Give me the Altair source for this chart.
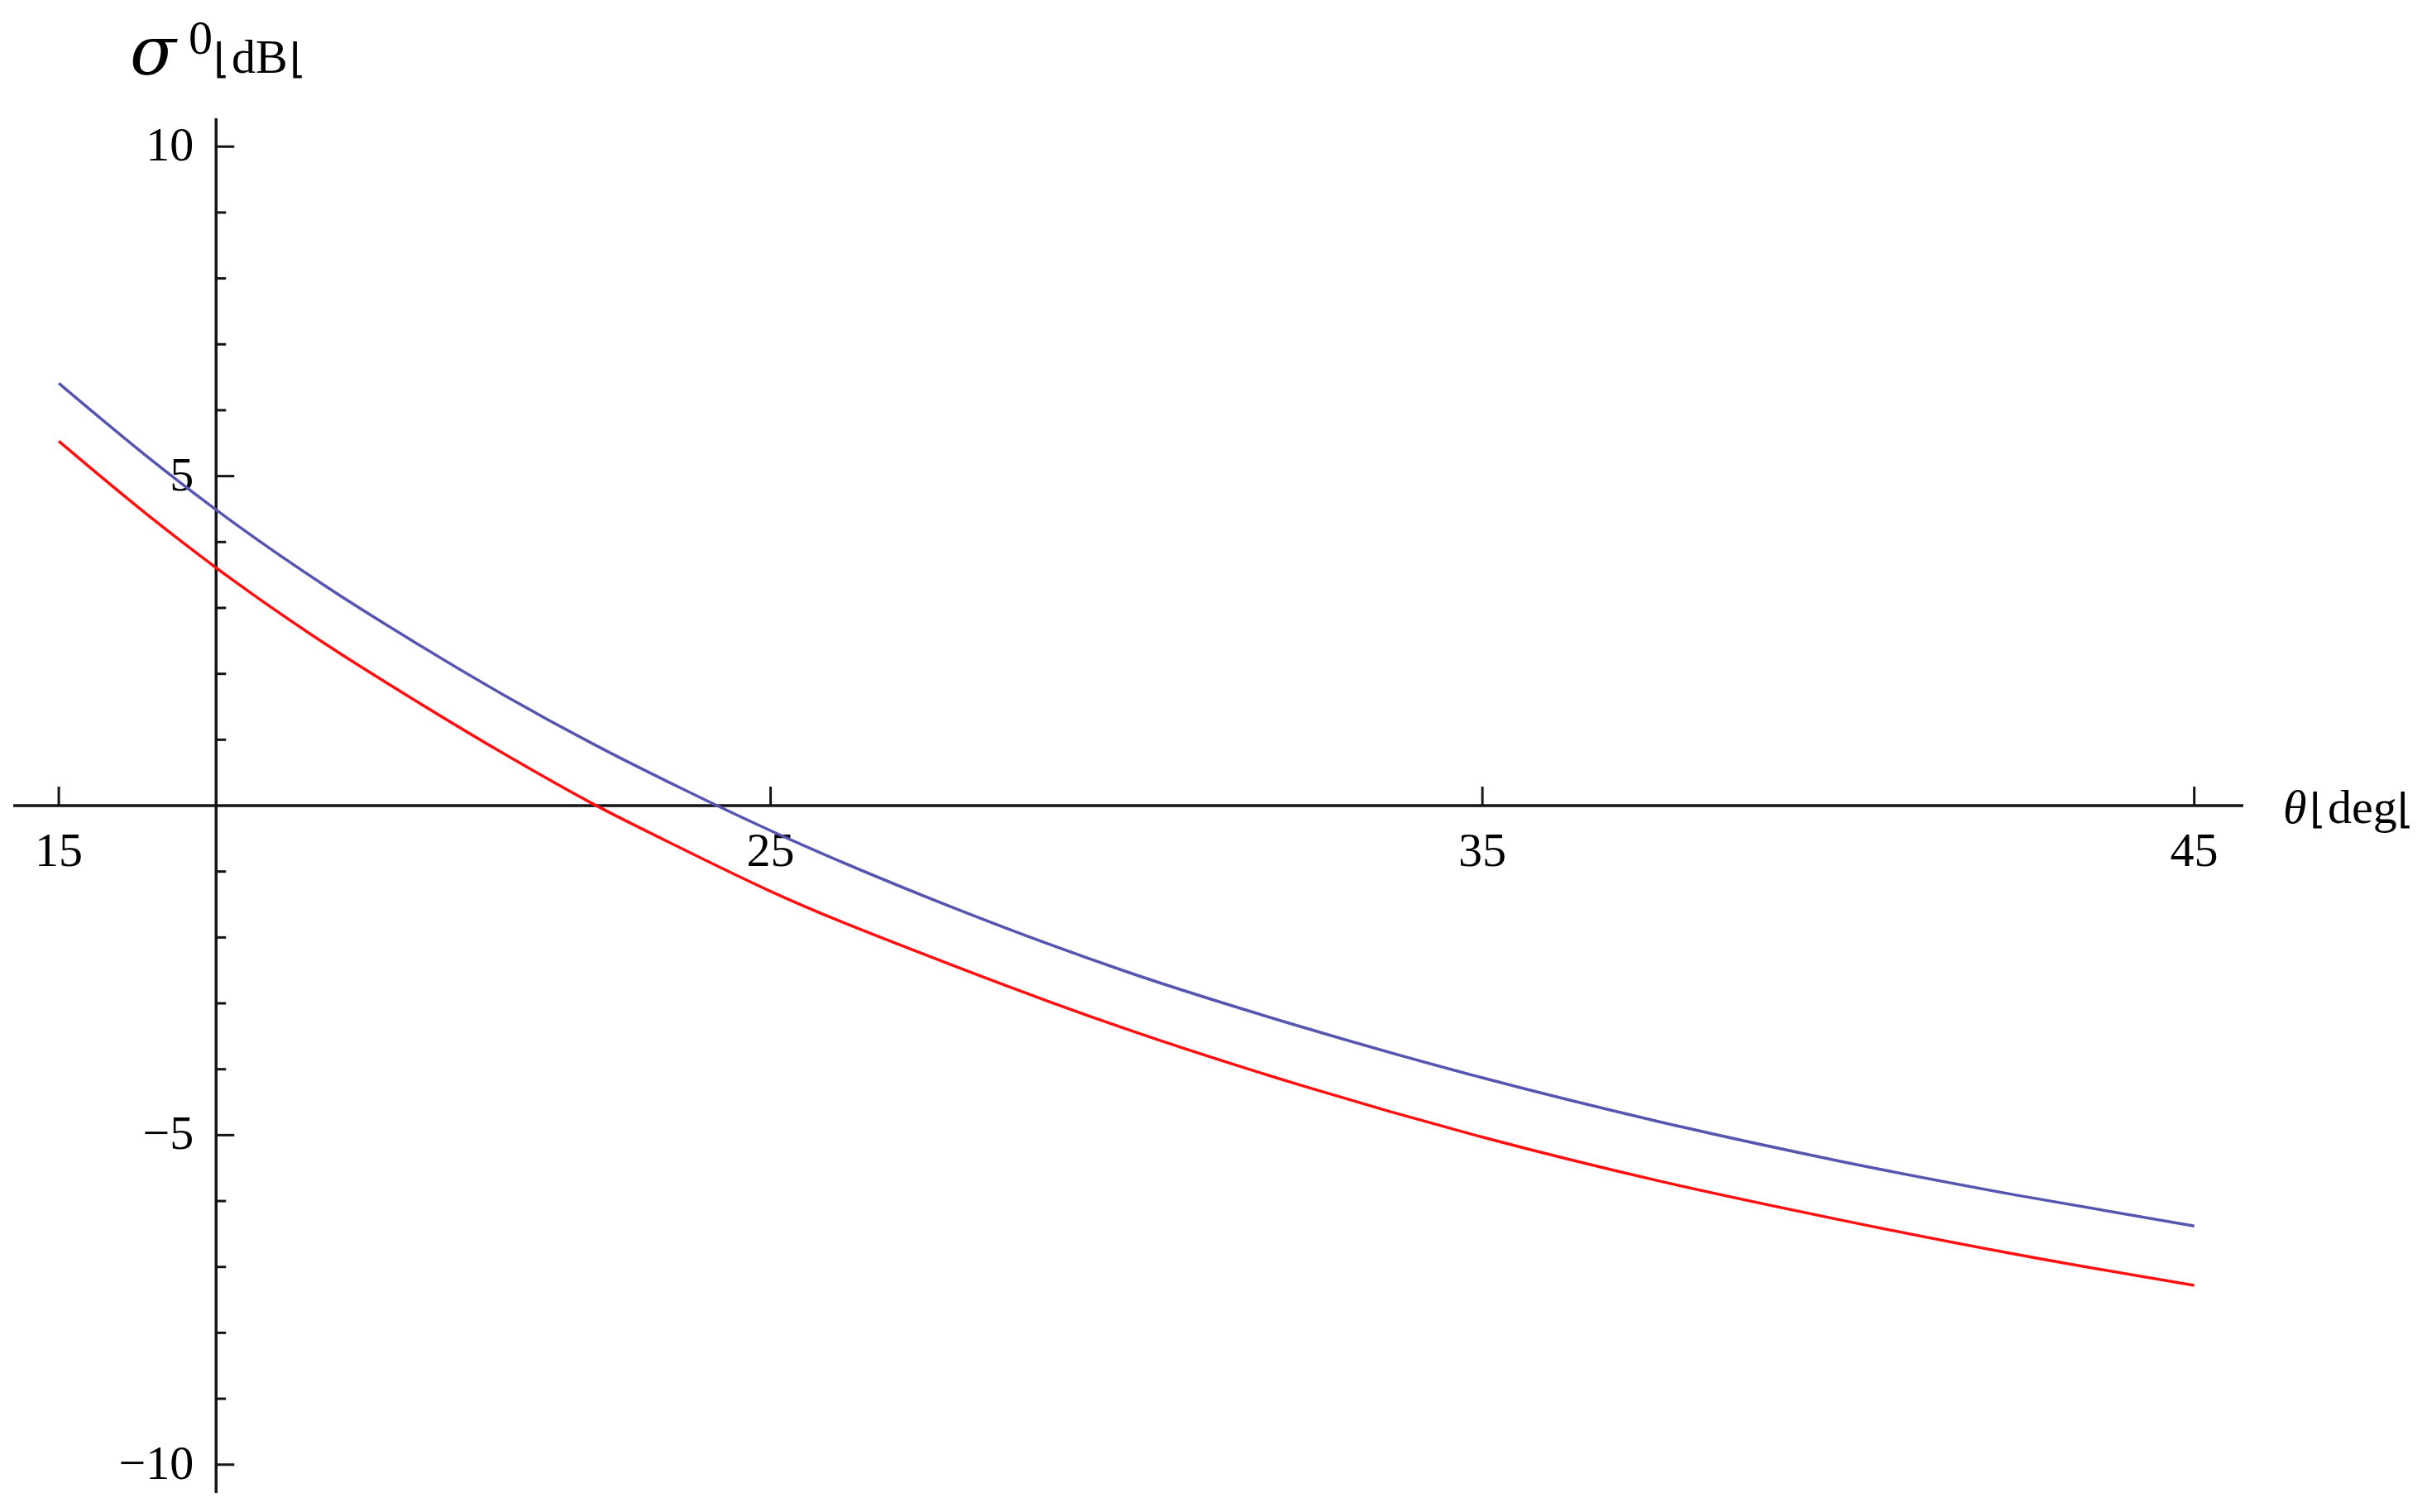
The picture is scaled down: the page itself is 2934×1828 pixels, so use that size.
import altair as alt
import pandas as pd

# ---- data ----
theta = [15, 16.25, 17.5, 18.75, 20, 21.25, 22.5, 23.75, 25, 27.5, 30, 32.5, 35, 37.5, 40, 42.5, 45]
sigma_blue = [6.41, 5.29, 4.26, 3.33, 2.48, 1.68, 0.94, 0.26, -0.38, -1.52, -2.52, -3.37, -4.13, -4.80, -5.39, -5.91, -6.38]
sigma_red = [5.53, 4.41, 3.38, 2.45, 1.60, 0.79, 0.03, -0.65, -1.30, -2.40, -3.39, -4.26, -5.03, -5.70, -6.28, -6.81, -7.28]

x_ticks = [15, 25, 35, 45]
x_tick_labels = ["15", "25", "35", "45"]
y_ticks = [10, 5, -5, -10]
y_tick_labels = ["10", "5", "\u22125", "\u221210"]
y_minor = [9, 8, 7, 6, 4, 3, 2, 1, -1, -2, -3, -4, -6, -7, -8, -9]

x_title_sym = "\u03b8"
x_title_unit = "deg"
y_title_sym = "\u03c3"
y_title_sup = "0"
y_title_unit = "dB"
bracket = "\u230a"

# axes geometry (data units)
XMIN, XMAX = 14.36, 45.69
YMIN, YMAX = -10.43, 10.43
Y_AXIS_AT = 17.21

W, H = 2696, 1662
PXX = W / (XMAX - XMIN)
PXY = H / (YMAX - YMIN)

BLUE = "#5656b0"
RED = "#ff1010"
AXC = "#141414"
FONT = "Liberation Serif"
FS = 58
BFS = 50

xs = alt.Scale(domain=[XMIN, XMAX], nice=False, zero=False)
ys = alt.Scale(domain=[YMIN, YMAX], nice=False, zero=False)

rows = []
for t, b, r in zip(theta, sigma_blue, sigma_red):
    rows.append({"theta": t, "sigma": b, "series": "blue"})
    rows.append({"theta": t, "sigma": r, "series": "red"})
curves_df = pd.DataFrame(rows)

curves = alt.Chart(curves_df).mark_line(strokeWidth=3.5, interpolate="monotone").encode(
    x=alt.X("theta:Q", scale=xs, axis=None),
    y=alt.Y("sigma:Q", scale=ys, axis=None),
    color=alt.Color("series:N", scale=alt.Scale(domain=["blue", "red"], range=[BLUE, RED]), legend=None),
    detail="series:N",
)

xaxis = alt.Chart(pd.DataFrame({"x": [XMIN], "x2": [XMAX], "y": [0]})).mark_rule(
    color=AXC, strokeWidth=3.5
).encode(x=alt.X("x:Q", scale=xs, axis=None), x2="x2:Q", y=alt.Y("y:Q", scale=ys, axis=None))

yaxis = alt.Chart(pd.DataFrame({"x": [Y_AXIS_AT], "y": [YMIN], "y2": [YMAX]})).mark_rule(
    color=AXC, strokeWidth=3.5
).encode(x=alt.X("x:Q", scale=xs, axis=None), y=alt.Y("y:Q", scale=ys, axis=None), y2="y2:Q")

xt_df = pd.DataFrame({"x": x_ticks, "y": [0] * len(x_ticks), "y2": [23 / PXY] * len(x_ticks), "lab": x_tick_labels})
xticks = alt.Chart(xt_df).mark_rule(color=AXC, strokeWidth=3).encode(
    x=alt.X("x:Q", scale=xs, axis=None), y=alt.Y("y:Q", scale=ys, axis=None), y2="y2:Q"
)
xlabels = alt.Chart(xt_df).mark_text(
    font=FONT, fontSize=FS, align="center", baseline="alphabetic", dy=73, color="black"
).encode(x=alt.X("x:Q", scale=xs, axis=None), y=alt.Y("y:Q", scale=ys, axis=None), text="lab:N")

yt_df = pd.DataFrame({"y": y_ticks, "x": [Y_AXIS_AT] * len(y_ticks),
                      "x2": [Y_AXIS_AT + 22 / PXX] * len(y_ticks), "lab": y_tick_labels})
yticks = alt.Chart(yt_df).mark_rule(color=AXC, strokeWidth=3).encode(
    x=alt.X("x:Q", scale=xs, axis=None), x2="x2:Q", y=alt.Y("y:Q", scale=ys, axis=None)
)
ylabels = alt.Chart(yt_df).mark_text(
    font=FONT, fontSize=FS, align="right", baseline="middle", dx=-27, color="black"
).encode(x=alt.X("x:Q", scale=xs, axis=None), y=alt.Y("y:Q", scale=ys, axis=None), text="lab:N")

ym_df = pd.DataFrame({"y": y_minor, "x": [Y_AXIS_AT] * len(y_minor),
                      "x2": [Y_AXIS_AT + 12 / PXX] * len(y_minor)})
yminor = alt.Chart(ym_df).mark_rule(color=AXC, strokeWidth=3).encode(
    x=alt.X("x:Q", scale=xs, axis=None), x2="x2:Q", y=alt.Y("y:Q", scale=ys, axis=None)
)

one = pd.DataFrame({"a": [0]})

def label(txt, px, py, size, style="normal", font=FONT):
    return alt.Chart(one).mark_text(
        text=txt, font=font, fontSize=size, fontStyle=style, align="left",
        baseline="alphabetic", color="black"
    ).encode(x=alt.value(px), y=alt.value(py))

# positions relative to plot origin (page 16,143)
t_sigma = label(y_title_sym, 141, -53, 82, "italic", "DejaVu Serif")
t_sup = label(y_title_sup, 212, -78, FS)
t_b1 = label(bracket, 242, -55, BFS, font="DejaVu Sans")
t_dB = label(y_title_unit, 264, -55, FS)
t_b2 = label(bracket, 334, -55, BFS, font="DejaVu Sans")
t_theta = label(x_title_sym, 2744, 852, FS, "italic")
t_b3 = label(bracket, 2776, 852, BFS, font="DejaVu Sans")
t_deg = label(x_title_unit, 2798, 852, FS)
t_b4 = label(bracket, 2882, 852, BFS, font="DejaVu Sans")

chart = alt.layer(
    xaxis, yaxis, xticks, yticks, yminor, xlabels, ylabels, curves,
    t_sigma, t_sup, t_b1, t_dB, t_b2, t_theta, t_b3, t_deg, t_b4
).properties(
    width=W, height=H,
    padding={"left": 8, "top": 135, "right": 210, "bottom": 10},
    autosize=alt.AutoSizeParams(type="none"),
    background="white",
).configure_view(strokeWidth=0)

chart.save("out.html", embed_options={"renderer": "svg", "actions": False})
